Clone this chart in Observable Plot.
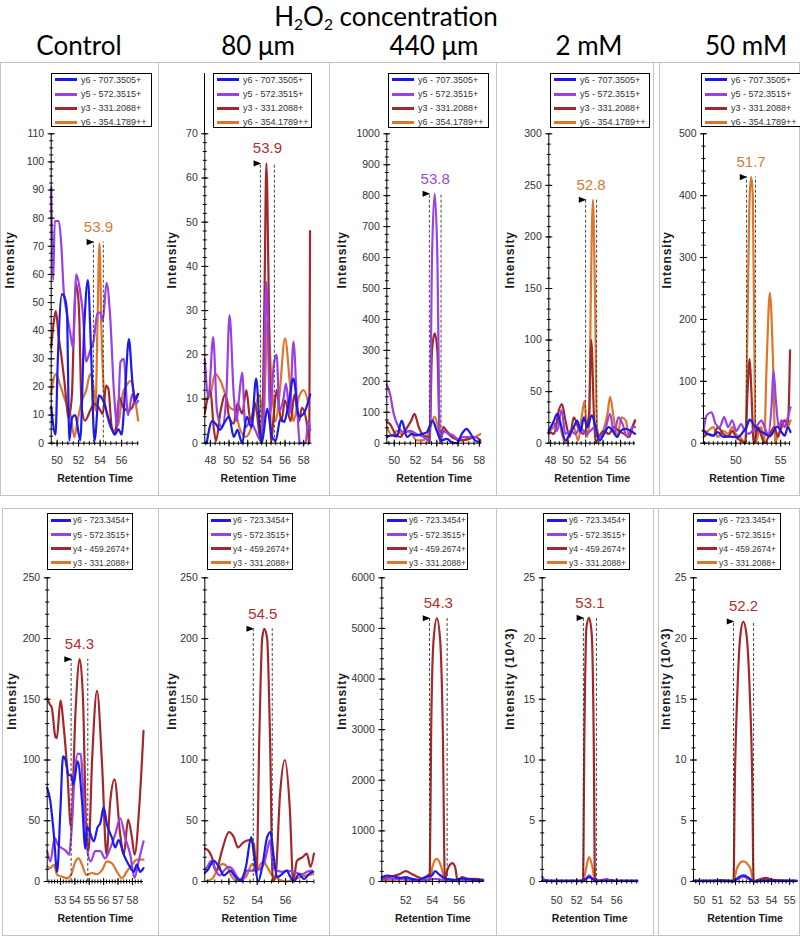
<!DOCTYPE html>
<html><head><meta charset="utf-8">
<script src="https://cdn.jsdelivr.net/npm/d3@7"></script>
<script src="https://cdn.jsdelivr.net/npm/@observablehq/plot@0.6"></script>
<style>
body{margin:0;background:#fff;}
#root{position:relative;width:800px;height:937px;overflow:hidden;background:#fff;}
.hdr{position:absolute;transform:translate(-50%,-50%);white-space:nowrap;font-family:Lato,"Open Sans",sans-serif;font-size:26px;color:#000;line-height:1;}
.hdr sub{font-size:60%;vertical-align:-0.25em;line-height:0;}
.box{position:absolute;border:1.5px solid #c4c4c4;box-sizing:border-box;}
.vline{position:absolute;width:0;border-left:1.5px solid #c4c4c4;}
.legend{position:absolute;background:#fff;border:1px solid #000;box-sizing:border-box;font-family:"Liberation Sans",Arial,sans-serif;color:#333;}
.legend .sw{position:absolute;height:3px;}
.legend .tx{position:absolute;white-space:nowrap;line-height:1;transform:translateY(-50%);}
</style>
</head><body><div id="root"></div>
<script>
// ---------------- text ----------------
const conditions = ["Control", "80 μm", "440 μm", "2 mM", "50 mM"];
const legendTop = ["y6 - 707.3505+", "y5 - 572.3515+", "y3 - 331.2088+", "y6 - 354.1789++"];
const legendBottom = ["y6 - 723.3454+", "y5 - 572.3515+", "y4 - 459.2674+", "y3 - 331.2088+"];
const yLabels = ["Intensity","Intensity","Intensity","Intensity","Intensity","Intensity","Intensity","Intensity","Intensity (10^3)","Intensity (10^3)"];
const xLabel = "Retention Time";

// ---------------- data: [retention time, intensity] ----------------
// Top row, Control
const topCtrl_y6 = [[49.45,13],[49.85,3],[50.06,29],[50.46,53],[50.77,51],[50.92,46],[51.14,1],[51.38,9],[51.69,10],[52.15,1],[52.52,41],[52.86,58],[53.14,35],[53.48,1],[53.9,17],[54.3,15],[54.92,7],[55.38,3],[55.7,5],[56.0,3],[56.3,17],[56.68,37],[56.98,23],[57.23,15],[57.54,17.5]];
const topCtrl_y5 = [[49.45,91],[49.63,58],[49.78,79],[50.15,79],[50.4,70],[50.6,55],[50.92,46],[51.23,39],[51.48,34],[51.78,60],[52.1,55],[52.4,46],[52.7,29],[53.08,33],[53.38,36],[53.75,46],[54.0,46.5],[54.25,43.5],[54.6,57],[54.92,46],[55.3,17.5],[55.6,6],[55.9,29],[56.2,30],[56.6,10],[57.0,17.5],[57.3,14],[57.54,15]];
const topCtrl_y3 = [[49.45,34],[49.7,43.5],[49.88,47],[50.15,37.6],[50.37,31.7],[50.68,22],[51.08,9],[51.38,17.5],[51.6,46],[51.78,56.6],[52.03,48],[52.28,13],[52.6,8],[53.08,11.6],[53.45,14],[53.85,12.8],[54.25,10.4],[54.55,20.5],[54.77,19.3],[55.08,5.7],[55.38,3.3],[55.78,16.3],[56.15,12.8],[56.6,11.6],[57.0,12.8],[57.3,16.3],[57.54,17.5]];
const topCtrl_y6pp = [[49.45,17.5],[49.7,23.4],[49.9,24.6],[50.25,21],[50.77,15],[51.3,9.2],[51.6,2.1],[51.9,8],[52.3,15],[52.7,18.7],[53.08,24.6],[53.38,19.9],[53.57,11.6],[53.75,41],[53.94,71],[54.12,41],[54.37,17.5],[54.77,8],[55.23,4.5],[55.7,6.9],[56.1,17.5],[56.46,20.5],[56.83,22.2],[57.23,16.3],[57.54,8]];
// Top row, 80 µm
const top80_y6 = [[47.6,0],[48.2,5],[48.7,4],[49.0,3],[49.6,5],[50.0,6],[50.5,1.4],[50.9,3],[51.4,0],[51.9,6],[52.4,3.6],[52.9,14.6],[53.3,3.6],[53.5,0],[54.1,7.8],[54.6,1.4],[55.0,0.6],[55.5,5.5],[55.9,4.8],[56.3,8],[56.9,14.6],[57.5,6],[58.0,6.7],[58.7,11]];
const top80_y5 = [[47.4,19],[47.8,10.5],[48.3,24],[48.7,7.4],[49.25,3.6],[49.7,10.5],[50.05,29],[50.5,11],[50.8,5],[51.1,11],[51.4,16],[51.75,3.6],[52.3,5],[52.8,3],[53.4,0.6],[53.6,1.4],[54.0,36.5],[54.4,6.7],[54.8,18],[55.1,20],[55.4,7.4],[55.8,9.7],[56.1,13.5],[56.5,6.7],[56.9,23],[57.3,8],[57.6,0],[58.2,0],[58.5,5],[58.7,3]];
const top80_y3 = [[47.4,6.7],[48.0,12],[48.35,3.6],[48.6,0.5],[49.1,7.4],[49.6,11],[50.0,6],[50.5,4.4],[50.9,9],[51.4,6.7],[51.85,12],[52.3,5],[52.8,9],[53.3,1.4],[53.5,0],[53.8,34],[54.0,63.3],[54.25,34],[54.5,0],[54.8,6.7],[55.1,12],[55.6,5],[56.0,9.7],[56.6,5],[57.0,11],[57.5,5],[57.8,8],[58.4,3.6],[58.6,0],[58.68,48]];
const top80_y6pp = [[47.6,9.7],[48.0,11],[48.5,15.7],[49.1,14],[49.6,11],[50.1,8],[50.6,7.4],[51.2,3],[51.75,1.4],[52.3,3],[52.8,8],[53.3,11],[53.65,3.6],[54.15,28.6],[54.55,14],[55.0,5],[55.4,11],[56.0,23.7],[56.5,14],[56.9,5],[57.5,10.5],[58.0,12],[58.5,9]];
// Top row, 440 µm
const top440_y6 = [[49.3,20],[49.8,25],[50.25,22],[50.7,73],[51.2,20],[51.65,30],[52.1,25],[52.6,30],[53.05,35],[53.6,73],[54.0,40],[54.4,9],[54.95,14],[55.4,3],[55.9,0],[56.35,30],[56.8,46],[57.1,35],[57.6,9],[58.1,3]];
const top440_y5 = [[49.3,190],[49.6,160],[49.95,95],[50.4,52],[50.9,35],[51.5,40],[52.1,30],[52.75,20],[53.15,9],[53.32,0],[53.55,600],[53.8,806],[54.05,600],[54.3,0],[54.6,40],[55.1,30],[55.55,25],[56.0,9],[56.5,20],[57.1,20],[57.75,20]];
const top440_y3 = [[49.3,68],[49.6,62],[50.1,30],[50.55,20],[51.0,40],[51.6,73],[51.9,95],[52.3,52],[52.75,25],[53.2,20],[53.32,0],[53.55,300],[53.8,355],[54.05,300],[54.3,0],[54.6,52],[55.1,30],[55.7,14],[56.3,9],[57.0,14],[57.6,20],[58.1,9]];
const top440_y6pp = [[49.3,52],[49.8,25],[50.25,40],[50.7,30],[51.2,40],[51.65,30],[52.1,9],[52.6,9],[53.05,20],[53.4,52],[53.8,86],[54.1,52],[54.3,20],[54.8,40],[55.25,30],[55.7,20],[56.35,9],[57.0,14],[57.6,20],[58.1,30]];
// Top row, 2 mM
const top2_y6 = [[47.8,12],[48.4,22],[48.75,28.5],[49.15,19],[49.7,2.6],[50.2,9],[50.65,15.5],[51.05,22],[51.45,12],[51.8,25],[52.2,15.5],[52.7,27],[53.15,15.5],[53.6,2.6],[54.1,9],[54.65,15.5],[55.1,12],[55.6,6],[56.0,12],[56.55,14],[57.15,12],[57.65,9]];
const top2_y5 = [[47.8,9],[48.4,19],[48.75,12],[49.25,32],[49.7,9],[50.3,12],[50.85,9],[51.4,15.5],[52.0,9],[52.55,12],[53.05,15.5],[53.5,6],[54.1,9],[54.8,28.5],[55.25,9],[55.75,25],[56.2,19],[56.75,6],[57.35,15.5],[57.65,15.5]];
const top2_y3 = [[47.8,12],[48.4,9],[48.95,32],[49.3,38],[49.7,22],[50.2,6],[50.65,25],[51.15,15.5],[51.7,9],[52.1,15.5],[52.4,28.5],[52.65,100],[52.95,28.5],[53.15,0],[53.5,6],[54.1,12],[54.65,9],[55.25,15.5],[55.8,12],[56.4,9],[56.95,6],[57.35,15.5],[57.65,22]];
const top2_y6pp = [[47.8,12],[48.4,15.5],[48.95,22],[49.3,9],[49.7,0],[50.2,9],[50.65,15.5],[51.15,2.6],[51.6,28.5],[51.9,41],[52.15,6],[52.4,15],[52.6,145],[52.84,236],[53.07,145],[53.3,15.5],[53.6,6],[54.0,12],[54.5,28.5],[54.8,45],[55.25,22],[55.6,6],[56.1,25],[56.6,22],[56.95,6],[57.35,15.5],[57.65,22]];
// Top row, 50 mM
const top50_y6 = [[46.4,20],[46.9,15],[47.5,12],[48.0,18],[48.6,10],[49.15,11],[49.7,10],[50.25,10],[50.8,18],[51.2,26],[51.55,38],[52.1,28],[52.65,20],[53.2,16],[53.8,11],[54.25,20],[54.6,27],[55.05,19],[55.45,12],[55.8,26],[56.1,18]];
const top50_y5 = [[46.4,20],[46.75,45],[47.3,50],[47.75,31],[48.2,26],[48.7,42],[49.15,26],[49.6,37],[50.05,20],[50.6,31],[51.0,20],[51.35,15],[51.9,20],[52.5,31],[52.85,37],[53.2,26],[53.6,15],[54.0,63],[54.2,117],[54.5,63],[54.8,26],[55.1,37],[55.45,26],[55.8,42],[56.1,58]];
const top50_y3 = [[46.4,10],[46.9,15],[47.5,12],[48.0,26],[48.6,15],[49.15,10],[49.6,20],[50.0,10],[50.6,4],[51.07,0],[51.3,80],[51.55,136],[51.75,80],[52.0,0],[52.5,26],[52.9,10],[53.2,0],[53.8,15],[54.3,26],[54.7,10],[55.05,26],[55.45,37],[55.8,30],[56.05,150]];
const top50_y6pp = [[46.4,15],[46.9,20],[47.5,26],[48.0,10],[48.6,20],[49.15,15],[49.6,26],[50.0,15],[50.45,10],[50.8,4],[51.07,0],[51.3,187],[51.55,400],[51.72,430],[51.9,400],[52.05,187],[52.2,0],[52.5,15],[52.85,26],[53.15,0],[53.45,133],[53.8,243],[54.15,133],[54.4,0],[54.7,15],[55.0,20],[55.4,37],[55.8,26],[56.1,37]];
// Bottom row, Control
const botCtrl_y6 = [[52.08,77],[52.3,66],[52.54,39],[52.77,8],[53.0,60],[53.18,103],[53.35,100],[53.55,88],[53.75,87],[53.9,80],[54.2,99],[54.5,66],[54.73,27],[54.85,45],[55.03,41],[55.31,33],[55.59,45],[55.77,48],[56.0,61],[56.23,47],[56.58,36],[56.8,28],[57.04,34],[57.4,22],[57.73,14],[58.1,8],[58.3,14],[58.54,8],[58.77,11]];
const botCtrl_y5 = [[52.08,25],[52.3,16.5],[52.6,36],[52.83,30],[53.1,27.5],[53.4,25],[53.6,22],[53.75,38],[54.0,90],[54.2,105],[54.4,105],[54.62,66],[54.85,27.5],[55.1,16.5],[55.42,25],[55.77,25],[56.1,19],[56.46,27.5],[56.8,38.5],[57.15,52],[57.5,36],[57.85,22],[58.15,3],[58.43,16.5],[58.77,33]];
const botCtrl_y4 = [[52.08,151],[52.25,146],[52.4,143],[52.65,119],[52.75,118],[53.0,149],[53.23,127],[53.46,94],[53.74,44],[54.04,138],[54.34,183],[54.57,149],[54.8,39],[54.95,25],[55.2,100],[55.54,157],[55.9,94],[56.2,22],[56.46,66],[56.76,84],[57.15,39],[57.4,22],[57.7,51],[57.97,36],[58.15,22],[58.5,66],[58.77,124]];
const botCtrl_y3 = [[52.08,12.4],[52.3,11],[52.54,13.8],[52.77,5.5],[53.1,4],[53.46,2.8],[53.74,5.5],[54.04,16.5],[54.27,19],[54.5,13.8],[54.8,5.5],[55.2,7],[55.54,6],[55.9,9.6],[56.23,16.5],[56.58,15],[56.93,8],[57.27,2.8],[57.6,8],[57.97,13.8],[58.3,18],[58.77,18]];
// Bottom row, 80 µm
const bot80_y6 = [[50.3,7],[50.47,9],[50.94,17],[51.3,12],[51.65,5],[52.1,9],[52.47,3.6],[52.8,1],[53.2,12],[53.58,36.5],[53.76,23],[54.07,0],[54.35,12],[54.7,36.5],[54.94,40.6],[55.17,20],[55.4,3.6],[55.76,6],[56.07,9],[56.35,3.6],[56.6,0],[56.94,6],[57.3,2],[57.65,6],[57.95,8]];
const bot80_y5 = [[50.3,10],[50.47,12],[50.75,17],[51.06,9],[51.36,5],[51.65,9],[52.0,12],[52.24,10.4],[52.6,3.6],[52.94,0],[53.25,9],[53.53,9],[53.88,9],[54.2,10.4],[54.47,14.5],[54.66,23],[54.9,34],[55.13,12],[55.4,9],[55.76,8],[56.1,9],[56.47,8],[56.8,7],[57.2,6],[57.5,8],[57.88,9]];
const bot80_y4 = [[50.3,27],[50.5,26],[50.8,20],[51.1,9],[51.5,25],[52.0,40.6],[52.35,36.5],[52.64,28],[53.0,32],[53.4,34],[53.76,31],[53.95,5],[54.15,120],[54.35,200],[54.5,208],[54.7,200],[54.9,120],[55.1,0],[55.3,5],[55.6,70],[55.95,100],[56.3,60],[56.54,0],[56.8,17],[57.2,20],[57.5,23],[57.76,12],[58.0,23]];
const bot80_y3 = [[50.3,0],[50.8,2],[51.18,9],[51.53,14.5],[51.9,12],[52.16,5],[52.47,1],[52.8,2],[53.2,3.6],[53.4,9],[53.65,14.5],[53.95,9],[54.24,14.5],[54.47,16],[54.7,12],[55.06,5],[55.3,3.6],[55.65,1],[56.1,0],[56.6,2],[57.06,3.6],[57.5,5],[57.95,6]];
// Bottom row, 440 µm
const bot440_y6 = [[50.2,86],[50.58,119],[51.08,99],[51.57,72],[52.0,86],[52.45,53],[52.95,33],[53.45,86],[53.95,119],[54.2,204],[54.45,150],[54.83,72],[55.2,46],[55.7,33],[56.2,59],[56.7,46],[57.2,33],[57.8,20]];
const bot440_y5 = [[50.2,33],[50.95,59],[51.57,46],[52.2,33],[52.95,20],[53.7,33],[54.2,53],[54.7,33],[55.45,20],[56.45,20],[57.8,13]];
const bot440_y4 = [[50.2,53],[50.7,86],[51.2,119],[51.57,150],[52.0,204],[52.45,150],[52.95,86],[53.3,53],[53.65,119],[53.8,150],[53.9,2920],[54.08,4760],[54.33,5200],[54.58,4760],[54.78,2920],[54.93,0],[55.1,217],[55.5,362],[55.7,283],[55.9,0],[56.2,86],[56.7,53],[57.2,53],[57.8,33]];
const bot440_y3 = [[50.2,20],[51.2,33],[52.0,53],[52.95,33],[53.7,46],[53.85,60],[54.0,300],[54.33,448],[54.65,300],[54.93,20],[55.7,20],[56.7,33],[57.8,20]];
// Bottom row, 2 mM (x10^3)
const bot2_y6 = [[48.55,0.05],[50.5,0.05],[52.6,0.05],[52.9,0.2],[53.25,0.36],[53.6,0.2],[53.9,0.05],[56.0,0.05],[58.05,0.05]];
const bot2_y5 = [[48.55,0.4],[48.8,0.14],[49.5,0.05],[52.6,0.05],[52.9,0.2],[53.25,0.5],[53.6,0.2],[53.9,0.05],[54.6,0.14],[55.0,0.2],[55.5,0.05],[58.05,0.05]];
const bot2_y4 = [[48.55,0.08],[49.5,0.05],[50.5,0.05],[51.5,0.06],[52.5,0.05],[52.63,0],[52.77,12],[52.97,20.9],[53.23,21.7],[53.5,20.4],[53.7,12],[53.83,0],[54.0,0.05],[55.0,0.14],[56.0,0.05],[57.0,0.05],[58.05,0.05]];
const bot2_y3 = [[48.55,0.05],[50.5,0.03],[52.5,0.03],[52.63,0],[52.9,0.9],[53.23,2.0],[53.57,1.2],[53.83,0],[54.2,0.05],[56.0,0.05],[58.05,0.03]];
// Bottom row, 50 mM (x10^3)
const bot50_y6 = [[49.67,0.05],[50.66,0.05],[51.18,0.1],[51.7,0.05],[51.89,0],[52.12,0.3],[52.43,0.5],[52.74,0.3],[53.0,0],[53.57,0.1],[55.38,0.05]];
const bot50_y5 = [[49.67,0.05],[51.89,0.05],[52.12,0.2],[52.43,0.4],[52.74,0.2],[53.0,0.05],[55.38,0.05]];
const bot50_y4 = [[49.67,0.05],[50.66,0.05],[51.7,0.05],[51.89,0],[51.96,8],[52.1,15.5],[52.27,20.3],[52.43,21.4],[52.61,20.3],[52.79,15.5],[52.93,8],[53.0,0],[53.26,0.14],[53.67,0.3],[54.03,0.14],[54.81,0.05],[55.38,0.05]];
const bot50_y3 = [[49.67,0.03],[51.81,0.03],[51.89,0],[52.06,1.0],[52.27,1.55],[52.43,1.65],[52.63,1.5],[52.84,1.0],[53.0,0],[53.67,0.05],[55.38,0.03]];

// Peak annotations (boundaries, apex, label) per panel
const peakStart = [53.38, 53.36, 53.3, 52.0, 51.2, 53.74, 53.72, 53.78, 52.67, 51.89];
const peakEnd   = [54.3, 54.86, 54.4, 53.26, 52.2, 54.9, 55.06, 55.1, 53.97, 53.0];
const peakTop   = [71.5, 63.3, 806, 236, 430, 183, 208, 5200, 21.7, 21.4];
const peakLabel = ["53.9", "53.9", "53.8", "52.8", "51.7", "54.3", "54.5", "54.3", "53.1", "52.2"];
const peakSeries = [3, 2, 1, 3, 3, 2, 2, 2, 2, 2];

// Scales per panel
const xDomains = [[49.45,57.6],[47.4,58.9],[49.3,58.2],[47.8,57.7],[46.4,56.1],[52.08,58.77],[50.3,58.0],[50.2,57.85],[48.55,58.05],[49.67,55.38]];
const xTicks = [[50,52,54,56],[48,50,52,54,56,58],[50,52,54,56,58],[48,50,52,54,56],[50,55],[53,54,55,56,57,58],[52,54,56],[52,54,56],[50,52,54,56],[50,51,52,53,54,55]];
const yMax = [110, 70, 1000, 300, 500, 250, 250, 6000, 25, 25];
const yStep = [10, 10, 100, 50, 100, 50, 50, 1000, 5, 5];

const panelSeries = [
  [topCtrl_y6, topCtrl_y5, topCtrl_y3, topCtrl_y6pp],
  [top80_y6, top80_y5, top80_y3, top80_y6pp],
  [top440_y6, top440_y5, top440_y3, top440_y6pp],
  [top2_y6, top2_y5, top2_y3, top2_y6pp],
  [top50_y6, top50_y5, top50_y3, top50_y6pp],
  [botCtrl_y6, botCtrl_y5, botCtrl_y4, botCtrl_y3],
  [bot80_y6, bot80_y5, bot80_y4, bot80_y3],
  [bot440_y6, bot440_y5, bot440_y4, bot440_y3],
  [bot2_y6, bot2_y5, bot2_y4, bot2_y3],
  [bot50_y6, bot50_y5, bot50_y4, bot50_y3]
];

// ---------------- styles / layout ----------------
const seriesColors = ["#1a1aee", "#9a40e4", "#a3282b", "#de7528"];
const labelColors = ["#1a1aee", "#9a4ad8", "#a83232", "#d27a3a"];
const yMinorDiv = [4, 5, 4, 5, 5, 5, 5, 5, 5, 5];
const xMinorStep = [0.5, 0.5, 0.5, 0.5, 0.5, 0.2, 0.5, 0.5, 0.5, 0.2];
const T = {top:63, h:432, yTop:133.3, y0:442.7};
const B = {top:508, h:427, yTop:577.3, y0:881};
const layout = [
  {...T, left:0,   w:158, axisX:50.7,  plotR:138.3, ylabX:10,    legend:[51,73,101,54]},
  {...T, left:158, w:171, axisX:204.3, plotR:311.6, ylabX:171.7, legend:[213,73,99,55]},
  {...T, left:329, w:167, axisX:386.3, plotR:481,   ylabX:341.3, legend:[388,73,101,55]},
  {...T, left:496, w:160, axisX:548.3, plotR:635,   ylabX:510,   legend:[550,73,100,55]},
  {...T, left:656, w:144, axisX:703,   plotR:790,   ylabX:666.3, legend:[701,73,101,54]},
  {...B, left:0,   w:158, axisX:46.7,  plotR:143,   ylabX:11.7,  legend:[47,513,86,57]},
  {...B, left:158, w:171, axisX:204.3, plotR:313.4, ylabX:171.7, legend:[207,513,86,57]},
  {...B, left:329, w:167, axisX:381.3, plotR:483.3, ylabX:341.3, legend:[383,513,85,57]},
  {...B, left:496, w:160, axisX:541.7, plotR:636.7, ylabX:510,   legend:[543,513,87,57]},
  {...B, left:656, w:144, axisX:693,   plotR:796,   ylabX:665.3, legend:[693,513,88,57]}
];

const root = document.getElementById("root");
function el(tag, cls, css, html) {
  const e = document.createElement(tag);
  if (cls) e.className = cls;
  Object.assign(e.style, css || {});
  if (html != null) e.innerHTML = html;
  root.appendChild(e);
  return e;
}

// Header
el("div", "hdr", {left:"386px", top:"16px"}, "H<sub>2</sub>O<sub>2</sub> concentration");
const hdrX = [79, 258, 434, 589, 746];
conditions.forEach((c, i) => el("div", "hdr", {left: hdrX[i] + "px", top: "45px"}, c));

// Panel frames
el("div", "box", {left:"0px", top:"62px", width:"800px", height:"434px"});
[157.5, 329, 495.5, 653, 659].forEach(x => el("div", "vline", {left: x + "px", top: "62px", height: "434px"}));
el("div", "box", {left:"2px", top:"508px", width:"798px", height:"428px"});
[158, 329, 496, 653, 658].forEach(x => el("div", "vline", {left: x + "px", top: "508px", height: "428px"}));

function stepRange(a, b, s) {
  const out = [];
  for (let k = Math.ceil(a / s - 1e-9); k * s <= b + 1e-9; k++) out.push(+(k * s).toFixed(4));
  return out;
}

// custom symbols: crossing tick marks and the right-pointing peak marker
const hTick = {draw(ctx, size) { const l = Math.sqrt(size / Math.PI); ctx.moveTo(-l, 0); ctx.lineTo(l, 0); }};
const vTick = {draw(ctx, size) { const l = Math.sqrt(size / Math.PI); ctx.moveTo(0, -l); ctx.lineTo(0, l); }};
const triRight = {draw(ctx, size) { const l = Math.sqrt(size / Math.PI); ctx.moveTo(l, 0); ctx.lineTo(-l, -l * 0.8); ctx.lineTo(-l, l * 0.8); ctx.closePath(); }};

panelSeries.forEach((series, i) => {
  const L = layout[i];
  const [xmin, xmax] = xDomains[i];
  const yMajor = stepRange(0, yMax[i], yStep[i]);
  const yMinor = stepRange(0, yMax[i], yStep[i] / yMinorDiv[i]);
  const xMinor = stepRange(xmin, xmax, xMinorStep[i]);
  const color = labelColors[peakSeries[i]];
  const isBottom = i >= 5;

  const marks = [];
  // traces (blue drawn last)
  [3, 2, 1, 0].forEach(k => {
    marks.push(Plot.line(series[k], {x: d => d[0], y: d => d[1], stroke: seriesColors[k], strokeWidth: 2.2, curve: "monotone-x"}));
  });
  // axes
  marks.push(Plot.ruleX([xmin], {stroke: "#000", strokeWidth: 1}));
  marks.push(Plot.ruleY([0], {stroke: "#000", strokeWidth: 1}));
  marks.push(Plot.dot(yMinor, {x: () => xmin, y: d => d, symbol: hTick, r: 2, stroke: "#000", fill: "none", strokeWidth: 1}));
  marks.push(Plot.dot(yMajor, {x: () => xmin, y: d => d, symbol: hTick, r: 3.5, stroke: "#000", fill: "none", strokeWidth: 1}));
  marks.push(Plot.text(yMajor, {x: () => xmin, y: d => d, text: d => String(d), textAnchor: "end", dx: -7, fill: "#333", fontSize: 10.5}));
  marks.push(Plot.dot(xMinor, {x: d => d, y: () => 0, symbol: vTick, r: 2, stroke: "#000", fill: "none", strokeWidth: 1}));
  marks.push(Plot.dot(xTicks[i], {x: d => d, y: () => 0, symbol: vTick, r: 3.5, stroke: "#000", fill: "none", strokeWidth: 1}));
  marks.push(Plot.text(xTicks[i], {x: d => d, y: () => 0, text: d => String(d), dy: isBottom ? 19 : 17.5, fill: "#333", fontSize: 10.5}));
  // axis titles
  marks.push(Plot.text([yLabels[i]], {frameAnchor: "left", dx: L.ylabX - L.axisX, rotate: -90, fontWeight: "bold", fontSize: 12, fill: "#1a1a1a"}));
  marks.push(Plot.text([xLabel], {frameAnchor: "bottom", dy: isBottom ? 40.7 : 39, fontWeight: "bold", fontSize: 10.5, fill: "#1a1a1a"}));
  // peak annotation
  const s = peakStart[i], e = peakEnd[i], top = peakTop[i];
  marks.push(Plot.ruleX([{x: s, top}, {x: e, top}], {x: "x", y1: () => 0, y2: "top", stroke: "#333", strokeWidth: 0.9, strokeDasharray: "3,2"}));
  marks.push(Plot.dot([{x: s, y: top}], {x: "x", y: "y", symbol: triRight, r: 3.8, fill: "#000", stroke: "none", dx: -3}));
  marks.push(Plot.text([{x: (s + e) / 2, y: top, label: peakLabel[i]}], {x: "x", y: "y", text: "label", dy: -15, fill: color, fontSize: 15}));

  const svg = Plot.plot({
    width: L.w, height: L.h,
    marginLeft: L.axisX - L.left,
    marginRight: L.left + L.w - L.plotR,
    marginTop: L.yTop - L.top,
    marginBottom: L.top + L.h - L.y0,
    x: {domain: [xmin, xmax], axis: null},
    y: {domain: [0, yMax[i]], axis: null},
    style: {background: "none", overflow: "visible", fontFamily: "'Liberation Sans', Arial, sans-serif", fontSize: "10.5px", color: "#333"},
    marks
  });
  svg.style.position = "absolute";
  svg.style.left = L.left + "px";
  svg.style.top = L.top + "px";
  svg.querySelectorAll("text").forEach(t => {
    if (t.textContent.startsWith("Intensity")) t.style.letterSpacing = "0.9px";
  });
  root.appendChild(svg);

  // legend
  const [lx, ly, lw, lh] = L.legend;
  const labels = isBottom ? legendBottom : legendTop;
  const box = el("div", "legend", {left: lx + "px", top: ly + "px", width: lw + "px", height: lh + "px"});
  labels.forEach((lab, k) => {
    const cy = (isBottom ? 6.3 : 5.8) + k * 14.2;
    const sw = document.createElement("div");
    sw.className = "sw";
    Object.assign(sw.style, {left: "3px", width: (isBottom ? 20 : 22) + "px", top: (cy - 1.5) + "px", background: seriesColors[k]});
    box.appendChild(sw);
    const tx = document.createElement("div");
    tx.className = "tx";
    tx.textContent = lab;
    Object.assign(tx.style, {left: (isBottom ? 25 : 29) + "px", top: cy + "px", fontSize: (isBottom ? 8.5 : 9) + "px"});
    box.appendChild(tx);
  });
});
// y-axis line extension above the 80 µm top panel
el("div", "", {position: "absolute", left: "204px", top: "73px", height: "61px", width: "0px", borderLeft: "1px solid #000"});
</script>
</body></html>
